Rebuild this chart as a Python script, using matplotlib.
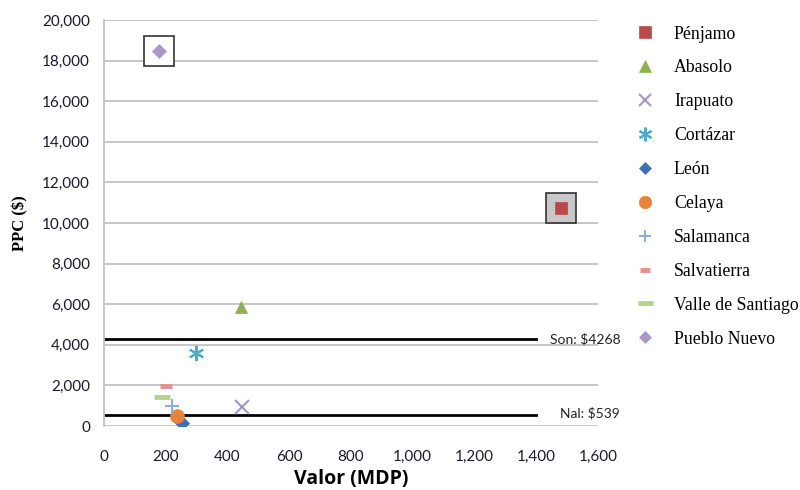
import matplotlib.pyplot as plt
from matplotlib.ticker import FuncFormatter, MultipleLocator

# municipios: valor (MDP) vs PPC ($)
names = ["Pénjamo", "Abasolo", "Irapuato", "Cortázar", "León", "Celaya",
         "Salamanca", "Salvatierra", "Valle de Santiago", "Pueblo Nuevo"]
valor = [1480, 445, 447, 298, 252, 237, 219, 201, 187, 178]
ppc = [10760, 5850, 950, 3590, 150, 490, 985, 1985, 1415, 18480]

# (6, 2, 0) is a six-spoke asterisk
markers = ["s", "^", "x", (6, 2, 0), "D", "o", "+", "_", "_", "D"]
colors = ["#b94a48", "#8fb14f", "#a596c4", "#4bacc6", "#3e70b2", "#e8843a",
          "#8faedb", "#e0908f", "#b6d18a", "#a998c6"]
sizes = [9, 9, 10, 11, 7, 10, 10, 8, 12, 7]

# reference levels
son_val, nal_val = 4268, 539
ref_x = [0, 1400]

# highlighted municipalities (box around the point)
boxed = {"Pueblo Nuevo": "white", "Pénjamo": "#c8c8c8"}

fig = plt.figure(figsize=(8, 4.9), dpi=100)
ax = fig.add_axes([0.13, 0.1306, 0.6175, 0.8285])

for name, fc in boxed.items():
    i = names.index(name)
    ax.plot(valor[i], ppc[i], marker="s", markersize=22, markerfacecolor=fc,
            markeredgecolor="#333333", markeredgewidth=1.2, linestyle="none",
            zorder=3)

for i, name in enumerate(names):
    m = markers[i]
    if m in ("x", "+", "_") or isinstance(m, tuple):
        kw = dict(color=colors[i], markeredgewidth=1.5 if m != "_" else 3.5)
    else:
        kw = dict(markerfacecolor=colors[i], markeredgecolor=colors[i],
                  markeredgewidth=0.5)
    ax.plot(valor[i], ppc[i], marker=m, markersize=sizes[i], linestyle="none",
            label=name, zorder=4, **kw)

ax.plot(ref_x, [son_val, son_val], color="black", linewidth=2, zorder=2)
ax.plot(ref_x, [nal_val, nal_val], color="black", linewidth=2, zorder=2)
ax.text(1672, son_val, f"Son: ${son_val}", ha="right", va="center",
        fontsize=10, family="Lato", color="#222222", clip_on=False)
ax.text(1672, nal_val + 80, f"Nal: ${nal_val}", ha="right", va="center",
        fontsize=10, family="Lato", color="#222222", clip_on=False)

ax.set_xlim(0, 1600)
ax.set_ylim(0, 20000)
ax.xaxis.set_major_locator(MultipleLocator(200))
ax.yaxis.set_major_locator(MultipleLocator(2000))
fmt = FuncFormatter(lambda v, p: f"{int(v):,}")
ax.xaxis.set_major_formatter(fmt)
ax.yaxis.set_major_formatter(fmt)

ax.grid(axis="y", color="#c3c3c3", linewidth=1.3, zorder=1)
ax.set_axisbelow(True)
for s in ("top", "right", "bottom"):
    ax.spines[s].set_visible(False)
ax.spines["left"].set_color("#c3c3c3")
ax.spines["left"].set_linewidth(1.3)
ax.tick_params(length=0, labelsize=11, colors="#1a1a2e")
ax.tick_params(axis="x", pad=17)
ax.tick_params(axis="y", pad=10)
for lab in ax.get_xticklabels() + ax.get_yticklabels():
    lab.set_family("Lato")

ax.set_xlabel("Valor (MDP)", fontsize=14, fontweight="bold", family="Open Sans",
              labelpad=4)
ax.set_ylabel("PPC ($)", fontsize=12, fontweight="bold",
              family="Liberation Serif", labelpad=10)

ax.legend(loc="upper left", bbox_to_anchor=(1.059, 1.004), frameon=False,
          prop={"family": "Liberation Serif", "size": 12.8},
          labelspacing=0.95, handletextpad=1.03, handlelength=1.2,
          borderaxespad=0, markerscale=0.9)

fig.savefig("out.png", dpi=100)
